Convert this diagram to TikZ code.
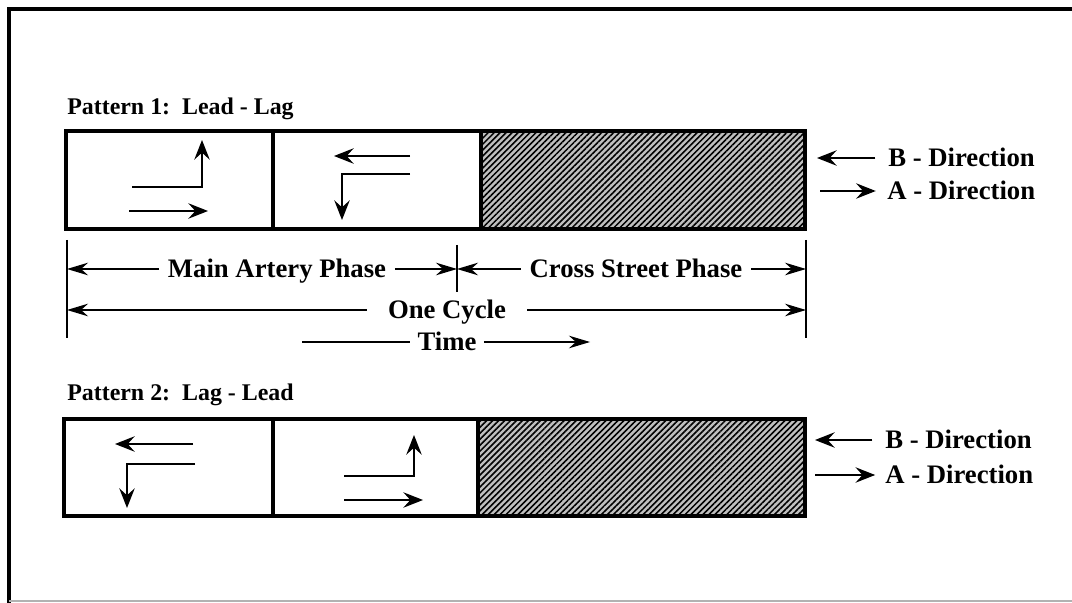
\documentclass[tikz,border=0pt]{standalone}
\usepackage{fontspec}
\setmainfont{Liberation Serif}
\usetikzlibrary{arrows.meta,patterns.meta}

\begin{document}
\begin{tikzpicture}[x=0.025cm,y=-0.025cm,
  tip/.style={-{Stealth[length=14pt,width=11pt,inset=5pt]}},
  dimtip/.style={-{Stealth[length=15pt,width=9pt,inset=5pt]}},
  arr/.style={line width=0.9pt},
  lbl/.style={font=\fontsize{19}{19}\selectfont\bfseries, inner ysep=0pt, inner xsep=6pt,
    text height=12.5pt, text depth=0pt},
  dirlbl/.style={font=\fontsize{19}{19}\selectfont\bfseries, inner sep=0pt, anchor=west,
    text height=12.5pt, text depth=0pt},
  hdr/.style={font=\fontsize{17}{17}\selectfont\bfseries, inner sep=0pt, anchor=west},
  box/.style={line width=3pt},
  hatch/.style={pattern={Lines[angle=45,distance=3pt,line width=1.1pt]}}]
\useasboundingbox (0,0) rectangle (1072,603);
% frame
\draw[line width=3pt] (9,603) -- (9,9) -- (1072,9);
\draw[gray!60, line width=1pt] (9,601) -- (1072,601);

% pattern 1
\node[hdr] (pat1) at (67,109) {Pattern 1:\ \ Lead - Lag};
\fill[gray!50] (481,131) rectangle (805,229);
\fill[hatch] (481,131) rectangle (805,229);
\draw[box] (66,131) rectangle (805,229);
\draw[line width=2.4pt] (273,131) -- (273,229);
\draw[line width=2.4pt] (481,131) -- (481,229);
\draw[arr,tip] (132,187) -- (202,187) -- (202,140);
\draw[arr,tip] (129,211) -- (208,211);
\draw[arr,tip] (410,156) -- (334,156);
\draw[arr,tip] (410,174) -- (342,174) -- (342,220);

\node[dirlbl] (bdir1) at (888,158) {B - Direction};
\node[dirlbl] (adir1) at (887,191) {A - Direction};
\coordinate (bend1) at (817,158);
\coordinate (astart1) at (820,191);
\draw[arr,tip] ([xshift=-9pt]bdir1.west) -- (bend1);
\draw[arr,tip] (astart1) -- ([xshift=-8pt]adir1.west);

% time scale
\coordinate (leftbar) at (67,269);
\coordinate (midbar) at (457,269);
\coordinate (rightbar) at (806,269);
\coordinate (leftcyc) at (67,310);
\coordinate (rightcyc) at (806,310);
\draw[line width=1.5pt] (67,240) -- (67,338);
\draw[line width=1.5pt] (806,240) -- (806,338);
\draw[arr] (457,245) -- (457,292);
\node[lbl] (main) at (277,269) {Main Artery Phase};
\node[lbl] (cross) at (636,269) {Cross Street Phase};
\node[lbl, inner xsep=15pt] (cycle) at (447,310) {One Cycle};
\node[lbl, inner xsep=5pt] (time) at (447,342) {Time};
\coordinate (tstart) at (302,342);
\coordinate (tend) at (590,342);
\draw[arr,dimtip] (main.west) -- (leftbar);
\draw[arr,dimtip] (main.east) -- (midbar);
\draw[arr,dimtip] (cross.west) -- (midbar);
\draw[arr,dimtip] (cross.east) -- (rightbar);
\draw[arr,dimtip] (cycle.west) -- (leftcyc);
\draw[arr,dimtip] (cycle.east) -- (rightcyc);
\draw[arr] (tstart) -- (time.west);
\draw[arr,dimtip] (time.east) -- (tend);

% pattern 2
\node[hdr] (pat2) at (67,395) {Pattern 2:\ \ Lag - Lead};
\fill[gray!50] (478,419) rectangle (805,516);
\fill[hatch] (478,419) rectangle (805,516);
\draw[box] (64,419) rectangle (805,516);
\draw[line width=2.4pt] (273,419) -- (273,516);
\draw[line width=2.4pt] (478,419) -- (478,516);
\draw[arr,tip] (193,444) -- (115,444);
\draw[arr,tip] (195,464) -- (127,464) -- (127,508);
\draw[arr,tip] (344,476) -- (414,476) -- (414,435);
\draw[arr,tip] (344,500) -- (423,500);

\node[dirlbl] (bdir2) at (885,440) {B - Direction};
\node[dirlbl] (adir2) at (885,475) {A - Direction};
\coordinate (bend2) at (815,440);
\coordinate (astart2) at (815,475);
\draw[arr,tip] ([xshift=-9pt]bdir2.west) -- (bend2);
\draw[arr,tip] (astart2) -- ([xshift=-7pt]adir2.west);
\end{tikzpicture}
\end{document}
